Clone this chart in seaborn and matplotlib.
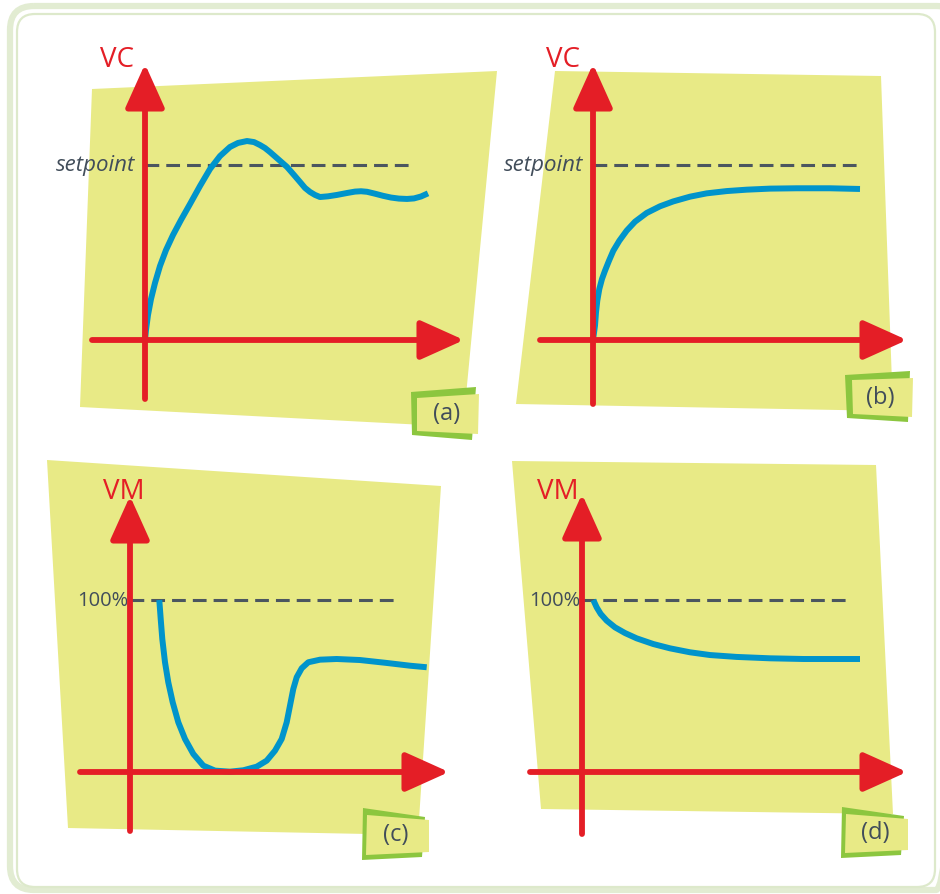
import matplotlib.pyplot as plt
import seaborn as sns
from matplotlib.patches import Polygon, FancyBboxPatch

# ---- data (time in arbitrary units, value relative to setpoint / 100%) ----
t_a = [0.00, 0.01, 0.03, 0.06, 0.10, 0.15, 0.21, 0.28, 0.36, 0.45, 0.55, 0.65, 0.75,
       0.85, 0.93, 1.02, 1.09, 1.15, 1.20, 1.25, 1.33, 1.42, 1.49, 1.55, 1.60, 1.65,
       1.70, 1.75, 1.83, 1.92, 2.02, 2.10, 2.16, 2.22, 2.30, 2.38, 2.46, 2.54, 2.62,
       2.69, 2.76, 2.83]
vc_a = [0.000, 0.057, 0.143, 0.234, 0.326, 0.423, 0.514, 0.600, 0.686, 0.777, 0.880,
        0.977, 1.051, 1.103, 1.126, 1.137, 1.131, 1.114, 1.097, 1.074, 1.034, 0.989,
        0.943, 0.903, 0.869, 0.846, 0.829, 0.817, 0.821, 0.829, 0.840, 0.848, 0.850,
        0.847, 0.836, 0.824, 0.814, 0.808, 0.806, 0.809, 0.820, 0.838]

t_b = [0.00, 0.02, 0.03, 0.043, 0.063, 0.09, 0.12, 0.16, 0.203, 0.263, 0.337, 0.42,
       0.537, 0.67, 0.803, 0.97, 1.137, 1.337, 1.537, 1.77, 2.037, 2.37, 2.67]
vc_b = [0.000, 0.082, 0.158, 0.225, 0.291, 0.349, 0.396, 0.453, 0.510, 0.567, 0.625,
        0.676, 0.726, 0.764, 0.792, 0.819, 0.838, 0.851, 0.859, 0.865, 0.867, 0.867, 0.863]

t_c = [0.293, 0.307, 0.323, 0.35, 0.383, 0.427, 0.483, 0.55, 0.633, 0.733, 0.85, 1.0,
       1.133, 1.267, 1.367, 1.45, 1.517, 1.567, 1.60, 1.633, 1.667, 1.717, 1.783, 1.90,
       2.067, 2.30, 2.567, 2.80, 2.967]
vm_c = [1.000, 0.890, 0.773, 0.638, 0.521, 0.405, 0.289, 0.192, 0.105, 0.037, 0.008,
        0.002, 0.010, 0.031, 0.066, 0.124, 0.192, 0.289, 0.386, 0.483, 0.551, 0.603,
        0.638, 0.653, 0.657, 0.651, 0.634, 0.618, 0.609]

t_d = [0.113, 0.147, 0.187, 0.247, 0.33, 0.43, 0.547, 0.713, 0.88, 1.08, 1.28, 1.547,
       1.88, 2.213, 2.78]
vm_d = [1.000, 0.957, 0.919, 0.880, 0.841, 0.808, 0.777, 0.744, 0.719, 0.696, 0.680,
        0.669, 0.661, 0.657, 0.657]

curves = [(t_a, vc_a), (t_b, vc_b), (t_c, vm_c), (t_d, vm_d)]
axis_names = ['VC', 'VC', 'VM', 'VM']
ref_labels = ['setpoint', 'setpoint', '100%', '100%']
tags = ['(a)', '(b)', '(c)', '(d)']

RED = '#e41e26'
BLUE = '#0094cb'
YELLOW = '#e8ea86'
GREEN = '#8cc63f'
INK = '#414d5a'

sns.set_theme(style="white")
plt.rcParams['font.family'] = ['Open Sans', 'DejaVu Sans']

W, H = 940, 895
fig = plt.figure(figsize=(W / 100, H / 100), dpi=100)

# background layer in pixel units
bg = fig.add_axes([0, 0, 1, 1])
bg.set_xlim(0, W)
bg.set_ylim(H, 0)
bg.axis('off')

bg.add_patch(FancyBboxPatch((10, 7), 950, 884, boxstyle="round,pad=0,rounding_size=24",
                            fill=False, ec='#e2ecd2', lw=4.5))
bg.add_patch(FancyBboxPatch((17, 15), 918, 873, boxstyle="round,pad=0,rounding_size=18",
                            fill=False, ec='#dde9cb', lw=1.6))

# sticky-note shapes behind each panel
notes = [
    [(92, 90), (497, 72), (463, 428), (80, 408)],
    [(555, 72), (881, 77), (893, 412), (516, 405)],
    [(47, 461), (441, 487), (418, 836), (68, 829)],
    [(512, 462), (876, 466), (893, 815), (541, 810)],
]
for pts in notes:
    bg.add_patch(Polygon(pts, closed=True, fc=YELLOW, ec='none', zorder=1))

# little label tags
tag_shapes = [
    ([(411, 393), (476, 388), (472, 441), (412, 436)], [(417, 399), (479, 395), (478, 435), (417, 432)], (447, 414)),
    ([(845, 376), (910, 372), (908, 423), (847, 419)], [(852, 381), (913, 379), (912, 418), (853, 415)], (880, 398)),
    ([(363, 809), (425, 818), (422, 858), (362, 861)], [(367, 816), (429, 821), (429, 853), (366, 856)], (396, 835)),
    ([(842, 808), (904, 817), (901, 856), (841, 859)], [(846, 815), (908, 820), (908, 851), (845, 854)], (875, 833)),
]
for (outer, inner, c), lab in zip(tag_shapes, tags):
    bg.add_patch(Polygon(outer, closed=True, fc=GREEN, ec='none', zorder=3))
    bg.add_patch(Polygon(inner, closed=True, fc=YELLOW, ec='none', zorder=4))
    bg.text(c[0], c[1], lab, color=INK, fontsize=17, ha='center', va='center', zorder=5)

# panel geometry in pixels: figure box, origin, pixels per unit, axis extents, dashed end
panels = [
    dict(box=(0, 0, 470, 447), ox=145, oy=341, unit=175, vbot=400, vtip=65, hleft=92, htip=464, dash=410, name=(117, 60)),
    dict(box=(470, 0, 940, 447), ox=593, oy=341, unit=175, vbot=405, vtip=65, hleft=540, htip=907, dash=858, name=(563, 60)),
    dict(box=(0, 447, 470, 895), ox=130, oy=773, unit=172, vbot=832, vtip=497, hleft=80, htip=449, dash=398, name=(124, 492)),
    dict(box=(470, 447, 940, 895), ox=582, oy=773, unit=172, vbot=835, vtip=495, hleft=530, htip=907, dash=850, name=(558, 492)),
]

arrow_style = dict(arrowstyle='-|>,head_length=1.0,head_width=0.45', color=RED, lw=4.2,
                   mutation_scale=27, shrinkA=0, shrinkB=0)

for p, (t, v), name, ref in zip(panels, curves, axis_names, ref_labels):
    x0, y0, x1, y1 = p['box']
    ax = fig.add_axes([x0 / W, 1 - y1 / H, (x1 - x0) / W, (y1 - y0) / H])
    ax.patch.set_alpha(0)
    ax.set_xlim((x0 - p['ox']) / 100, (x1 - p['ox']) / 100)
    ax.set_ylim((p['oy'] - y1) / p['unit'], (p['oy'] - y0) / p['unit'])
    ax.axis('off')

    # dashed reference line
    ax.plot([0, (p['dash'] - p['ox']) / 100], [1, 1], color='#4b5660', lw=2.2,
            ls=(0, (4.5, 2.3)), zorder=2)
    if ref == 'setpoint':
        ax.text(-0.10, 1.0, ref, color=INK, fontsize=16, style='italic', ha='right', va='center')
    else:
        ax.text(-0.02, 1.0, ref, color=INK, fontsize=14.5, ha='right', va='center')

    # response curve
    sns.lineplot(x=t, y=v, ax=ax, color=BLUE, lw=4.3, estimator=None, zorder=3,
                 solid_joinstyle='round', solid_capstyle='butt')

    # red axes with arrowheads
    ax.annotate('', xy=(0, (p['oy'] - p['vtip']) / p['unit']), xytext=(0, (p['oy'] - p['vbot']) / p['unit']),
                arrowprops=arrow_style, annotation_clip=False, zorder=4)
    ax.annotate('', xy=((p['htip'] - p['ox']) / 100, 0), xytext=((p['hleft'] - p['ox']) / 100, 0),
                arrowprops=arrow_style, annotation_clip=False, zorder=4)

    bg.text(p['name'][0], p['name'][1], name, color=RED, fontsize=20, ha='center', va='center')

fig.savefig('out.png', dpi=100)
